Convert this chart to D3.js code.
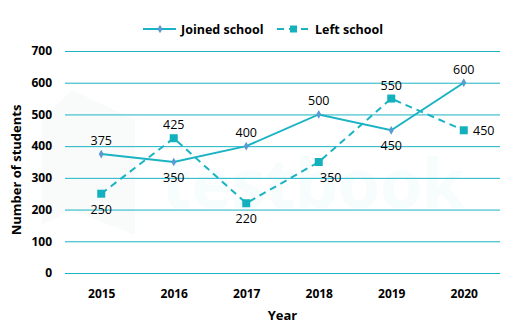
<!DOCTYPE html>
<html>
<head>
<meta charset="utf-8">
<script src="https://cdn.jsdelivr.net/npm/d3@7"></script>
<style>
  body { margin: 0; background: #fff; }
  svg { font-family: "Open Sans", Lato, sans-serif; }
</style>
</head>
<body>
<div id="chart"></div>
<script>
var years = ["2015", "2016", "2017", "2018", "2019", "2020"];
var joined = [375, 350, 400, 500, 450, 600];
var left = [250, 425, 220, 350, 550, 450];
var yTicks = [0, 100, 200, 300, 400, 500, 600, 700];

// label placement per point: dx, dy relative to the marker
var joinedPos = [[0, -9], [0, 20], [0, -9], [0, -9], [0, 20], [0, -9]];
var leftPos = [[0, 20], [0, -9], [0, 20], [12, 20], [0, -9], [20, 5]];

var lineColor = "#1ab3c3";

var W = 513, H = 326,
  margin = { top: 51, right: 13, bottom: 53, left: 65 },
  width = W - margin.left - margin.right,
  height = H - margin.top - margin.bottom;

var x = d3.scalePoint().domain(years).range([0, width]).padding(0.5),
  y = d3.scaleLinear().domain([0, 700]).range([height, 0]);

var svg = d3.select("#chart")
  .append("svg")
  .attr("width", W)
  .attr("height", H);

// faint watermark
var wm = svg.append("g").attr("opacity", 0.035);
wm.append("polygon")
  .attr("points", "42,120 72,90 135,120 135,235 72,210 42,225")
  .attr("fill", "#6aa");
wm.append("text")
  .attr("x", 162)
  .attr("y", 208)
  .attr("font-size", 68)
  .attr("font-weight", "bold")
  .attr("fill", "#4bb")
  .text("testbook");

var g = svg.append("g")
  .attr("transform", "translate(" + margin.left + "," + margin.top + ")");

// gridlines + y labels
var yAxis = d3.axisLeft(y).tickValues(yTicks).tickSize(-width).tickPadding(13);
g.append("g")
  .attr("class", "y axis")
  .call(yAxis)
  .call(function(s) {
    s.select(".domain").remove();
    s.selectAll(".tick line").attr("stroke", lineColor).attr("stroke-width", 1);
    s.selectAll(".tick text")
      .attr("font-size", 12)
      .attr("font-weight", "bold")
      .attr("fill", "#000")
      .attr("font-family", "'Open Sans', sans-serif");
  });

var xAxis = d3.axisBottom(x).tickSize(0).tickPadding(16);
g.append("g")
  .attr("class", "x axis")
  .attr("transform", "translate(0," + height + ")")
  .call(xAxis)
  .call(function(s) {
    s.select(".domain").remove();
    s.selectAll(".tick text")
      .attr("font-size", 12)
      .attr("font-weight", "bold")
      .attr("fill", "#000")
      .attr("font-family", "'Open Sans', sans-serif");
  });

// axis titles
svg.append("text")
  .attr("transform", "translate(21," + (margin.top + height / 2 + 8) + ") rotate(-90)")
  .attr("text-anchor", "middle")
  .attr("font-size", 13)
  .attr("font-weight", "bold")
  .text("Number of students");

svg.append("text")
  .attr("x", margin.left + width / 2)
  .attr("y", 320)
  .attr("text-anchor", "middle")
  .attr("font-size", 13)
  .attr("font-weight", "bold")
  .text("Year");

var line = d3.line()
  .x(function(d, i) { return x(years[i]); })
  .y(function(d) { return y(d); });

g.append("path")
  .datum(left)
  .attr("fill", "none")
  .attr("stroke", lineColor)
  .attr("stroke-width", 2)
  .attr("stroke-dasharray", "7,5")
  .attr("d", line);

g.append("path")
  .datum(joined)
  .attr("fill", "none")
  .attr("stroke", lineColor)
  .attr("stroke-width", 2)
  .attr("d", line);

g.selectAll(".sq")
  .data(left)
  .enter()
  .append("rect")
  .attr("class", "sq")
  .attr("x", function(d, i) { return x(years[i]) - 4; })
  .attr("y", function(d) { return y(d) - 4; })
  .attr("width", 8)
  .attr("height", 8)
  .attr("fill", "#13b1bd");

var diamond = d3.symbol().type(d3.symbolDiamond).size(22);
g.selectAll(".dm")
  .data(joined)
  .enter()
  .append("path")
  .attr("class", "dm")
  .attr("d", diamond)
  .attr("transform", function(d, i) {
    return "translate(" + x(years[i]) + "," + y(d) + ")";
  })
  .attr("fill", "#5b9bd5");

// value labels
function labels(data, pos) {
  g.selectAll(null)
    .data(data)
    .enter()
    .append("text")
    .attr("x", function(d, i) { return x(years[i]) + pos[i][0]; })
    .attr("y", function(d, i) { return y(d) + pos[i][1]; })
    .attr("text-anchor", "middle")
    .attr("font-size", 12.5)
    .attr("fill", "#000")
    .text(function(d) { return d; });
}
labels(joined, joinedPos);
labels(left, leftPos);

// legend
var lg = svg.append("g").attr("transform", "translate(0,29)");
lg.append("line")
  .attr("x1", 143).attr("x2", 176)
  .attr("stroke", lineColor).attr("stroke-width", 2);
lg.append("path")
  .attr("d", diamond)
  .attr("transform", "translate(160,0)")
  .attr("fill", "#5b9bd5");
lg.append("text")
  .attr("x", 181).attr("y", 4.5)
  .attr("font-size", 12.5).attr("font-weight", "bold")
  .text("Joined school");
lg.append("line")
  .attr("x1", 277).attr("x2", 311)
  .attr("stroke", lineColor).attr("stroke-width", 2)
  .attr("stroke-dasharray", "7,5");
lg.append("rect")
  .attr("x", 290).attr("y", -3.5)
  .attr("width", 7).attr("height", 7)
  .attr("fill", "#13b1bd");
lg.append("text")
  .attr("x", 315).attr("y", 4.5)
  .attr("font-size", 12.5).attr("font-weight", "bold")
  .text("Left school");
</script>
</body>
</html>
